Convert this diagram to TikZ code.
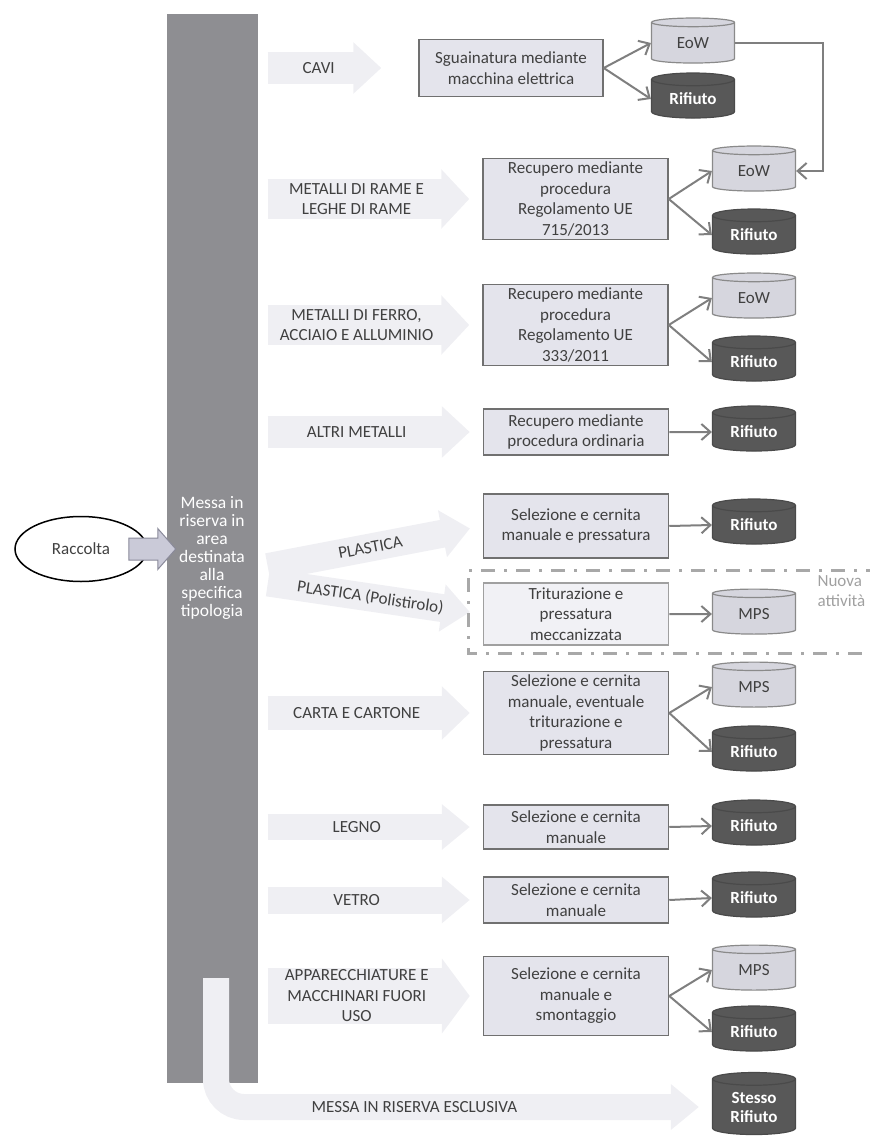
\documentclass[tikz,border=0pt]{standalone}
\usepackage{fontspec}
\setmainfont{Carlito}
\usetikzlibrary{shapes.geometric,arrows.meta}

\definecolor{bargray}{HTML}{8E8E92}
\definecolor{boxfill}{HTML}{E4E4EC}
\definecolor{boxline}{HTML}{707070}
\definecolor{txtgray}{HTML}{404040}
\definecolor{cylfill}{HTML}{D6D6DE}
\definecolor{cylline}{HTML}{8A8A8A}
\definecolor{darkfill}{HTML}{585858}
\definecolor{darkline}{HTML}{4A4A4A}
\definecolor{linkgray}{HTML}{7F7F7F}
\definecolor{palegray}{HTML}{EFEFF3}
\definecolor{entryfill}{HTML}{CACAD8}
\definecolor{entryline}{HTML}{8A8A9A}
\definecolor{newfill}{HTML}{F1F1F5}
\definecolor{newline}{HTML}{A0A0A0}
\definecolor{framegray}{HTML}{A8A8A8}

\begin{document}
\begin{tikzpicture}[>={Straight Barb[length=9pt,width=16pt]},x=1pt,y=-1pt,
	font=\fontsize{17}{20.5}\selectfont,
	proc/.style={draw=boxline,line width=1.5pt,fill=boxfill,text=txtgray,align=center,minimum width=185pt,inner sep=1pt},
	okbin/.style={cylinder,shape border rotate=90,aspect=0.27,draw=cylline,line width=1.2pt,fill=cylfill,text=txtgray,minimum width=83pt,minimum height=45pt,inner sep=0pt},
	wastebin/.style={okbin,draw=darkline,fill=darkfill,text=white,font=\fontsize{17}{19}\selectfont\bfseries},
	link/.style={->,draw=linkgray,line width=2pt},
	flow/.style={draw=palegray,-{Triangle[length=28pt,width=18pt 1]},shorten <=10pt,shorten >=13pt},
	cat/.style={text=txtgray,align=center}]
	\useasboundingbox (0,0) rectangle (869,1139);
	%\draw[line width=0.2pt] (0,0) grid[step=50] (869,1139);
	\node[fill=bargray,minimum width=91pt,minimum height=1069pt,inner sep=0pt] (bar) at (212,548.5) {};
	\node[text=white,align=center,font=\fontsize{17.5}{18}\selectfont] (bartxt) at (212,558) {Messa in\\riserva in\\area\\destinata\\alla\\specifica\\tipologia};
	\node[ellipse,draw,line width=1.5pt,fill=white,minimum width=132pt,minimum height=65pt,inner sep=0pt,text=txtgray] (rac) at (81,549) {Raccolta};
	\draw[draw=entryline,fill=entryfill,line width=1pt] ([xshift=-19pt]rac.east) ++(0,-11) -- ++(29,0) -- ++(0,-9.5) -- ++(18,20.5) -- ++(-18,20.5) -- ++(0,-9.5) -- ++(-29,0) -- cycle;

	\node[proc,minimum width=184pt,minimum height=57pt] (sgua) at (511,68) {Sguainatura mediante\\macchina elettrica};
	\node[proc,minimum height=81pt] (rame) at (575.5,199) {Recupero mediante\\procedura\\Regolamento UE\\715/2013};
	\node[proc,minimum height=81pt] (ferro) at (575.5,325) {Recupero mediante\\procedura\\Regolamento UE\\333/2011};
	\node[proc,minimum height=46pt] (altri) at (576,432) {Recupero mediante\\procedura ordinaria};
	\node[proc,minimum height=64pt] (plast) at (576,526) {Selezione e cernita\\manuale e pressatura};
	\node[proc,minimum height=62pt,fill=newfill,draw=newline] (polis) at (576,614) {Triturazione e\\pressatura\\meccanizzata};
	\node[proc,minimum height=83pt] (carta) at (576,713) {Selezione e cernita\\manuale, eventuale\\triturazione e\\pressatura};
	\node[proc,minimum height=44pt] (legno) at (576,827) {Selezione e cernita\\manuale};
	\node[proc,minimum height=46pt] (vetro) at (576,900) {Selezione e cernita\\manuale};
	\node[proc,minimum height=79pt] (raee) at (576,996) {Selezione e cernita\\manuale e\\smontaggio};

	\node[okbin] (eow1) at (693,43) {EoW};
	\node[wastebin] (rif1) at (693,99) {Rifiuto};
	\node[okbin] (eow2) at (754,171) {EoW};
	\node[wastebin] (rif2) at (754,235) {Rifiuto};
	\node[okbin] (eow3) at (754,298) {EoW};
	\node[wastebin] (rif3) at (754,362) {Rifiuto};
	\node[wastebin] (rif4) at (754,432) {Rifiuto};
	\node[wastebin] (rif5) at (754,525) {Rifiuto};
	\node[okbin] (mps1) at (754,614) {MPS};
	\node[okbin] (mps2) at (754,687) {MPS};
	\node[wastebin] (rif6) at (754,752) {Rifiuto};
	\node[wastebin] (rif7) at (754,826) {Rifiuto};
	\node[wastebin] (rif8) at (754,898) {Rifiuto};
	\node[okbin] (mps3) at (754,970) {MPS};
	\node[wastebin] (rif9) at (754,1032) {Rifiuto};
	\node[wastebin,minimum height=62pt,align=center] (stesso) at (754,1107) {Stesso\\Rifiuto};

	\draw[flow,line width=32pt,shorten >=37pt] (bar.east |- sgua.west) -- (sgua.west) node[cat,pos=0.38]{CAVI};
	\draw[flow,line width=40pt] (bar.east |- rame.west) -- (rame.west) node[cat,pos=0.44]{METALLI DI RAME E\\LEGHE DI RAME};
	\draw[flow,line width=40pt] (bar.east |- ferro.west) -- (ferro.west) node[cat,pos=0.44]{METALLI DI FERRO,\\ACCIAIO E ALLUMINIO};
	\draw[flow,line width=32pt] (bar.east |- altri.west) -- (altri.west) node[cat,pos=0.44]{ALTRI METALLI};
	\coordinate (plroot) at (258,569);
	\coordinate (psroot) at (258,581);
	\draw[flow,line width=28pt] (plroot) -- (plast.west);
	\draw[flow,line width=28pt] (psroot) -- (polis.west);
	\path (plroot) -- (plast.west) node[cat,sloped,pos=0.5] (pltxt) {PLASTICA};
	\path (psroot) -- (polis.west) node[cat,sloped,pos=0.5] (pstxt) {PLASTICA (Polistirolo)};
	\draw[flow,line width=34pt] (bar.east |- carta.west) -- (carta.west) node[cat,pos=0.44]{CARTA E CARTONE};
	\draw[flow,line width=26pt] (bar.east |- legno.west) -- (legno.west) node[cat,pos=0.44]{LEGNO};
	\draw[flow,line width=27pt] (bar.east |- vetro.west) -- (vetro.west) node[cat,pos=0.44]{VETRO};
	\draw[flow,line width=56pt] (bar.east |- raee.west) -- (raee.west) node[cat,pos=0.44]{APPARECCHIATURE E\\MACCHINARI FUORI\\USO};
	\coordinate (notch) at (216,978);
	\draw[flow,line width=26pt,rounded corners=28pt,shorten <=0pt] (notch) |- (stesso.west) node[cat,pos=0.7]{MESSA IN RISERVA ESCLUSIVA};

	\draw[link] (sgua.east) -- (eow1.west);
	\draw[link] (sgua.east) -- (rif1.west);
	\draw[link] (eow1.east) -- ++(88,0) |- (eow2.east);
	\draw[link] (rame.east) -- (eow2.west);
	\draw[link] (rame.east) -- (rif2.west);
	\draw[link] (ferro.east) -- (eow3.west);
	\draw[link] (ferro.east) -- (rif3.west);
	\draw[link] (altri.east) -- (rif4.west);
	\draw[link] (plast.east) -- (rif5.west);
	\draw[link] (polis.east) -- (mps1.west);
	\draw[link] (carta.east) -- (mps2.west);
	\draw[link] (carta.east) -- (rif6.west);
	\draw[link] (legno.east) -- (rif7.west);
	\draw[link] (vetro.east) -- (rif8.west);
	\draw[link] (raee.east) -- (mps3.west);
	\draw[link] (raee.east) -- (rif9.west);

	\draw[draw=framegray,line width=3pt,dash pattern=on 14pt off 9pt on 3pt off 9pt] (880,570) -| (468,653) -- (880,653);
	\node[text=newline,align=left,anchor=west] (nuova) at (814,591) {Nuova\\attività};
\end{tikzpicture}
\end{document}
